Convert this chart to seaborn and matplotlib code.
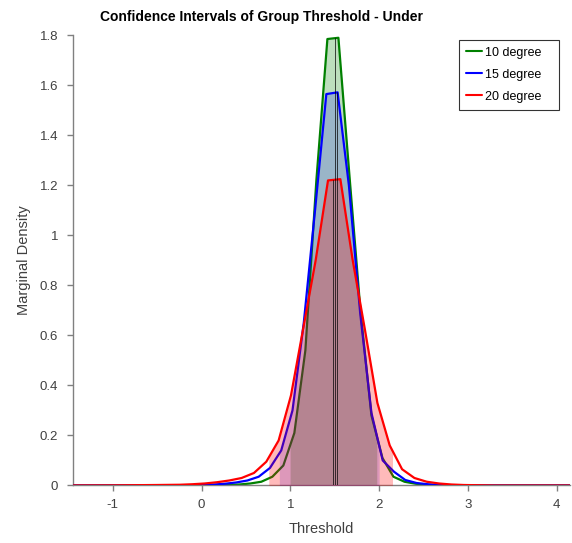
import numpy as np
import matplotlib
matplotlib.use("Agg")
import matplotlib.pyplot as plt
import seaborn as sns

sns.set_theme(style="white")
plt.rcParams['font.family'] = ['Liberation Sans', 'DejaVu Sans']

title = "Confidence Intervals of Group Threshold - Under"
xlabel = "Threshold"
ylabel = "Marginal Density"
series_names = ["10 degree", "15 degree", "20 degree"]
series_colors = ["#008000", "#0000ff", "#ff0000"]

green_x = [-1.6, -0.5, 0.0, 0.301, 0.425, 0.549, 0.673, 0.797, 0.921, 1.045, 1.169, 1.293,
           1.417, 1.541, 1.665, 1.789, 1.913, 2.037, 2.161, 2.285, 2.409, 2.533, 2.657, 3.0, 4.3]
green_y = [0, 0, 0.001, 0.002, 0.004, 0.008, 0.015, 0.035, 0.08, 0.21, 0.54, 1.22,
           1.784, 1.789, 1.24, 0.70, 0.28, 0.11, 0.035, 0.015, 0.007, 0.003, 0.001, 0, 0]

blue_x = [-1.6, -0.5, -0.119, 0.008, 0.135, 0.262, 0.389, 0.516, 0.643, 0.770, 0.897, 1.024,
          1.151, 1.278, 1.405, 1.532, 1.659, 1.786, 1.913, 2.040, 2.167, 2.294, 2.421, 2.548,
          2.675, 3.1, 4.3]
blue_y = [0, 0, 0.001, 0.002, 0.004, 0.007, 0.012, 0.02, 0.035, 0.07, 0.14, 0.3,
          0.65, 1.1, 1.564, 1.571, 1.2, 0.69, 0.29, 0.1, 0.055, 0.022, 0.01, 0.005,
          0.002, 0, 0]

red_x = [-1.6, -1.0, -0.5, -0.244, -0.105, 0.034, 0.173, 0.312, 0.451, 0.590, 0.729, 0.868,
         1.007, 1.146, 1.285, 1.424, 1.563, 1.702, 1.841, 1.980, 2.119, 2.258, 2.397, 2.536,
         2.675, 2.814, 2.953, 3.3, 4.3]
red_y = [0, 0.0005, 0.002, 0.003, 0.005, 0.008, 0.013, 0.02, 0.03, 0.05, 0.095, 0.18,
         0.36, 0.63, 0.9, 1.219, 1.224, 0.9, 0.62, 0.33, 0.16, 0.065, 0.03, 0.015,
         0.008, 0.004, 0.002, 0, 0]

ci_low = [0.997, 0.876, 0.757]
ci_high = [1.973, 2.0, 2.15]
medians = [1.505, 1.52, 1.485]

xticks = [-1, 0, 1, 2, 3, 4]
yticks = [0, 0.2, 0.4, 0.6, 0.8, 1.0, 1.2, 1.4, 1.6, 1.8]
ytick_labels = ["0", "0.2", "0.4", "0.6", "0.8", "1", "1.2", "1.4", "1.6", "1.8"]

fig = plt.figure(figsize=(5.72, 5.43), dpi=100)
ax = fig.add_axes([0.1282, 0.1059, 0.8683, 0.8296])

xs = [green_x, blue_x, red_x]
ys = [green_y, blue_y, red_y]
fill_alpha = [0.26, 0.18, 0.27]

for i in range(3):
    x = np.array(xs[i]); y = np.array(ys[i])
    sns.lineplot(x=x, y=y, color=series_colors[i], lw=1.6, ax=ax, label=series_names[i],
                 sort=False, estimator=None, zorder=2 + i)
    lo, hi = ci_low[i], ci_high[i]
    inside = (x > lo) & (x < hi)
    fx = np.concatenate([[lo], x[inside], [hi]])
    fy = np.concatenate([[np.interp(lo, x, y)], y[inside], [np.interp(hi, x, y)]])
    ax.fill_between(fx, 0, fy, color=series_colors[i], alpha=fill_alpha[i], lw=0, zorder=2 + i)

for i in range(3):
    h = np.interp(medians[i], xs[i], ys[i])
    ax.plot([medians[i], medians[i]], [0, h], color="black", lw=0.5, zorder=6)

ax.set_xlim(-1.444, 4.149)
ax.set_ylim(0, 1.8)
ax.set_xticks(xticks)
ax.set_xticklabels([str(t) for t in xticks])
ax.set_yticks(yticks)
ax.set_yticklabels(ytick_labels)
for s in ["top", "right"]:
    ax.spines[s].set_visible(False)
for s in ["left", "bottom"]:
    ax.spines[s].set_color("#808080")
    ax.spines[s].set_linewidth(1.0)
ax.tick_params(axis="both", direction="out", length=4, width=1, color="#808080",
               labelcolor="#404040", labelsize=9.5, bottom=True, left=True)
ax.tick_params(axis="x", pad=6)
ax.tick_params(axis="y", pad=7)
ax.set_xlabel(xlabel, fontsize=10.5, color="#404040", labelpad=8)
ax.set_ylabel(ylabel, fontsize=10.5, color="#404040", labelpad=6)
fig.text(262 / 572, 1 - 17 / 543, title, ha="center", va="center", fontsize=10,
         fontweight="bold", color="black")

leg = ax.legend(loc="upper left", bbox_to_anchor=(0.7765, 0.0, 0.2014, 0.989), mode="expand",
                frameon=True, fancybox=False, edgecolor="black", fontsize=9,
                handlelength=1.3, handletextpad=0.25, labelspacing=0.8, borderpad=0.55,
                borderaxespad=0)
leg.get_frame().set_linewidth(0.8)
for t in leg.get_texts():
    t.set_color("black")
for l in leg.get_lines():
    l.set_linewidth(1.5)

fig.savefig("out.png", dpi=100)
